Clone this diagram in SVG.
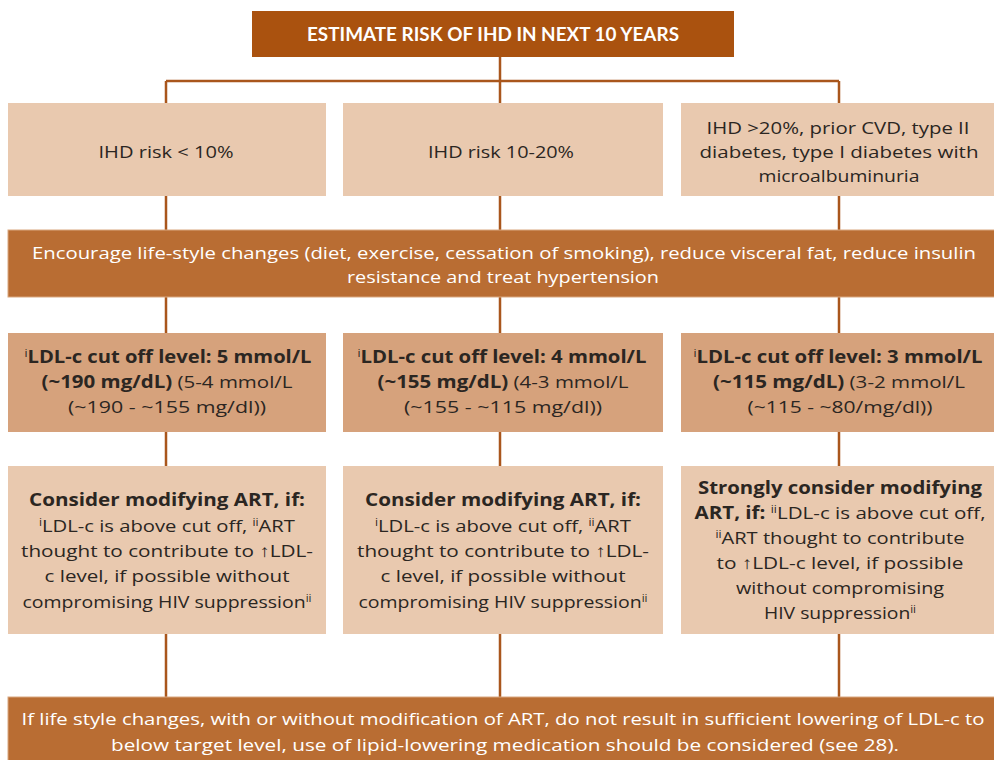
<svg xmlns="http://www.w3.org/2000/svg" width="994" height="760" viewBox="0 0 994 760">
<style>
.lines{stroke:#A9561C;stroke-width:2.5;fill:none}
.title{fill:#AA520F}
.light{fill:#E9C9AF}
.mid{fill:#D6A27C}
.band{fill:#B96D33;stroke:#D9A880;stroke-width:1}
text{font-family:"Open Sans","Liberation Sans",sans-serif;text-anchor:middle}
.wt{fill:#ffffff;font-size:17px}
.tt{fill:#ffffff;font-size:18px;font-weight:bold;font-family:Lato,"Open Sans",sans-serif}
.dk{fill:#2b2622;font-size:17px}
.cd{font-family:"Liberation Sans Narrow","Open Sans",sans-serif}
.b{font-weight:bold}
.sup{font-size:10px}
</style>
<g id="connectors" class="lines">
<path d="M500 57V81M166 81H839M166 81V697M500 81V697M839 81V697"/>
</g>
<g id="n-title">
<rect class="title" x="252" y="11" width="482" height="46"/>
<text class="tt" x="493" y="41" textLength="372" lengthAdjust="spacingAndGlyphs">ESTIMATE RISK OF IHD IN NEXT 10 YEARS</text>
</g>
<g id="n-risk-low">
<rect class="light" x="8" y="103" width="318" height="93"/>
<text class="dk" x="166" y="158" textLength="135" lengthAdjust="spacingAndGlyphs">IHD risk &lt; 10%</text>
</g>
<g id="n-risk-mid">
<rect class="light" x="343" y="103" width="320" height="93"/>
<text class="dk" x="501" y="158" textLength="146" lengthAdjust="spacingAndGlyphs">IHD risk 10-20%</text>
</g>
<g id="n-risk-high">
<rect class="light" x="681" y="103" width="320" height="93"/>
<text class="dk" x="838" y="134" textLength="263" lengthAdjust="spacingAndGlyphs">IHD &gt;20%, prior CVD, type II</text>
<text class="dk" x="839" y="158" textLength="279" lengthAdjust="spacingAndGlyphs">diabetes, type I diabetes with</text>
<text class="dk" x="839" y="182" textLength="161" lengthAdjust="spacingAndGlyphs">microalbuminuria</text>
</g>
<g id="n-lifestyle">
<rect class="band" x="8" y="230" width="990" height="67"/>
<text class="wt" x="504" y="259" textLength="944" lengthAdjust="spacingAndGlyphs">Encourage life-style changes (diet, exercise, cessation of smoking), reduce visceral fat, reduce insulin</text>
<text class="wt" x="503" y="283" textLength="312" lengthAdjust="spacingAndGlyphs">resistance and treat hypertension</text>
</g>
<g id="n-ldl-1">
<rect class="mid" x="8" y="333" width="318" height="99"/>
<text class="dk" x="168" y="363" textLength="287" lengthAdjust="spacingAndGlyphs"><tspan class="sup" dy="-6">i</tspan><tspan class="b" dy="6">LDL-c cut off level: 5 mmol/L</tspan></text>
<text class="dk" x="167" y="388" textLength="251" lengthAdjust="spacingAndGlyphs"><tspan class="b">(~190 mg/dL)</tspan> (5-4 mmol/L</text>
<text class="dk" x="167" y="413" textLength="198" lengthAdjust="spacingAndGlyphs">(~190 - ~155 mg/dl))</text>
</g>
<g id="n-ldl-2">
<rect class="mid" x="343" y="333" width="320" height="99"/>
<text class="dk" x="502" y="363" textLength="289" lengthAdjust="spacingAndGlyphs"><tspan class="sup" dy="-6">i</tspan><tspan class="b" dy="6">LDL-c cut off level: 4 mmol/L</tspan></text>
<text class="dk" x="503" y="388" textLength="251" lengthAdjust="spacingAndGlyphs"><tspan class="b">(~155 mg/dL)</tspan> (4-3 mmol/L</text>
<text class="dk" x="503" y="413" textLength="198" lengthAdjust="spacingAndGlyphs">(~155 - ~115 mg/dl))</text>
</g>
<g id="n-ldl-3">
<rect class="mid" x="681" y="333" width="320" height="99"/>
<text class="dk" x="838" y="363" textLength="289" lengthAdjust="spacingAndGlyphs"><tspan class="sup" dy="-6">i</tspan><tspan class="b" dy="6">LDL-c cut off level: 3 mmol/L</tspan></text>
<text class="dk" x="839" y="388" textLength="252" lengthAdjust="spacingAndGlyphs"><tspan class="b">(~115 mg/dL)</tspan> (3-2 mmol/L</text>
<text class="dk" x="840" y="413" textLength="185" lengthAdjust="spacingAndGlyphs">(~115 - ~80/mg/dl))</text>
</g>
<g id="n-art-1">
<rect class="light" x="8" y="466" width="318" height="168"/>
<text class="dk b" x="167" y="506" textLength="276" lengthAdjust="spacingAndGlyphs">Consider modifying ART, if:</text>
<text class="dk" x="167" y="532" textLength="256" lengthAdjust="spacingAndGlyphs"><tspan class="sup" dy="-6">i</tspan><tspan dy="6">LDL-c is above cut off, </tspan><tspan class="sup" dy="-6">ii</tspan><tspan dy="6">ART</tspan></text>
<text class="dk" x="167" y="557" textLength="292" lengthAdjust="spacingAndGlyphs">thought to contribute to ↑LDL-</text>
<text class="dk" x="167" y="582" textLength="245" lengthAdjust="spacingAndGlyphs">c level, if possible without</text>
<text class="dk" x="167" y="608" textLength="289" lengthAdjust="spacingAndGlyphs">compromising HIV suppression<tspan class="sup" dy="-6">ii</tspan></text>
</g>
<g id="n-art-2">
<rect class="light" x="343" y="466" width="320" height="168"/>
<text class="dk b" x="503" y="506" textLength="276" lengthAdjust="spacingAndGlyphs">Consider modifying ART, if:</text>
<text class="dk" x="503" y="532" textLength="256" lengthAdjust="spacingAndGlyphs"><tspan class="sup" dy="-6">i</tspan><tspan dy="6">LDL-c is above cut off, </tspan><tspan class="sup" dy="-6">ii</tspan><tspan dy="6">ART</tspan></text>
<text class="dk" x="503" y="557" textLength="292" lengthAdjust="spacingAndGlyphs">thought to contribute to ↑LDL-</text>
<text class="dk" x="503" y="582" textLength="245" lengthAdjust="spacingAndGlyphs">c level, if possible without</text>
<text class="dk" x="503" y="608" textLength="289" lengthAdjust="spacingAndGlyphs">compromising HIV suppression<tspan class="sup" dy="-6">ii</tspan></text>
</g>
<g id="n-art-3">
<rect class="light" x="681" y="466" width="320" height="168"/>
<text class="dk b" x="840" y="494" textLength="284" lengthAdjust="spacingAndGlyphs">Strongly consider modifying</text>
<text class="dk" x="840" y="519" textLength="291" lengthAdjust="spacingAndGlyphs"><tspan class="b">ART, if: </tspan><tspan class="sup" dy="-6">ii</tspan><tspan dy="6">LDL-c is above cut off,</tspan></text>
<text class="dk" x="840" y="544" textLength="249" lengthAdjust="spacingAndGlyphs"><tspan class="sup" dy="-6">ii</tspan><tspan dy="6">ART thought to contribute</tspan></text>
<text class="dk" x="840" y="569" textLength="247" lengthAdjust="spacingAndGlyphs">to ↑LDL-c level, if possible</text>
<text class="dk" x="840" y="594" textLength="208" lengthAdjust="spacingAndGlyphs">without compromising</text>
<text class="dk" x="840" y="619" textLength="152" lengthAdjust="spacingAndGlyphs">HIV suppression<tspan class="sup" dy="-6">ii</tspan></text>
</g>
<g id="n-medication">
<rect class="band" x="8" y="697" width="990" height="70"/>
<text class="wt" x="503" y="725" textLength="963" lengthAdjust="spacingAndGlyphs">If life style changes, with or without modification of ART, do not result in sufficient lowering of LDL-c to</text>
<text class="wt" x="505" y="751" textLength="788" lengthAdjust="spacingAndGlyphs">below target level, use of lipid-lowering medication should be considered (see 28).</text>
</g>
</svg>
